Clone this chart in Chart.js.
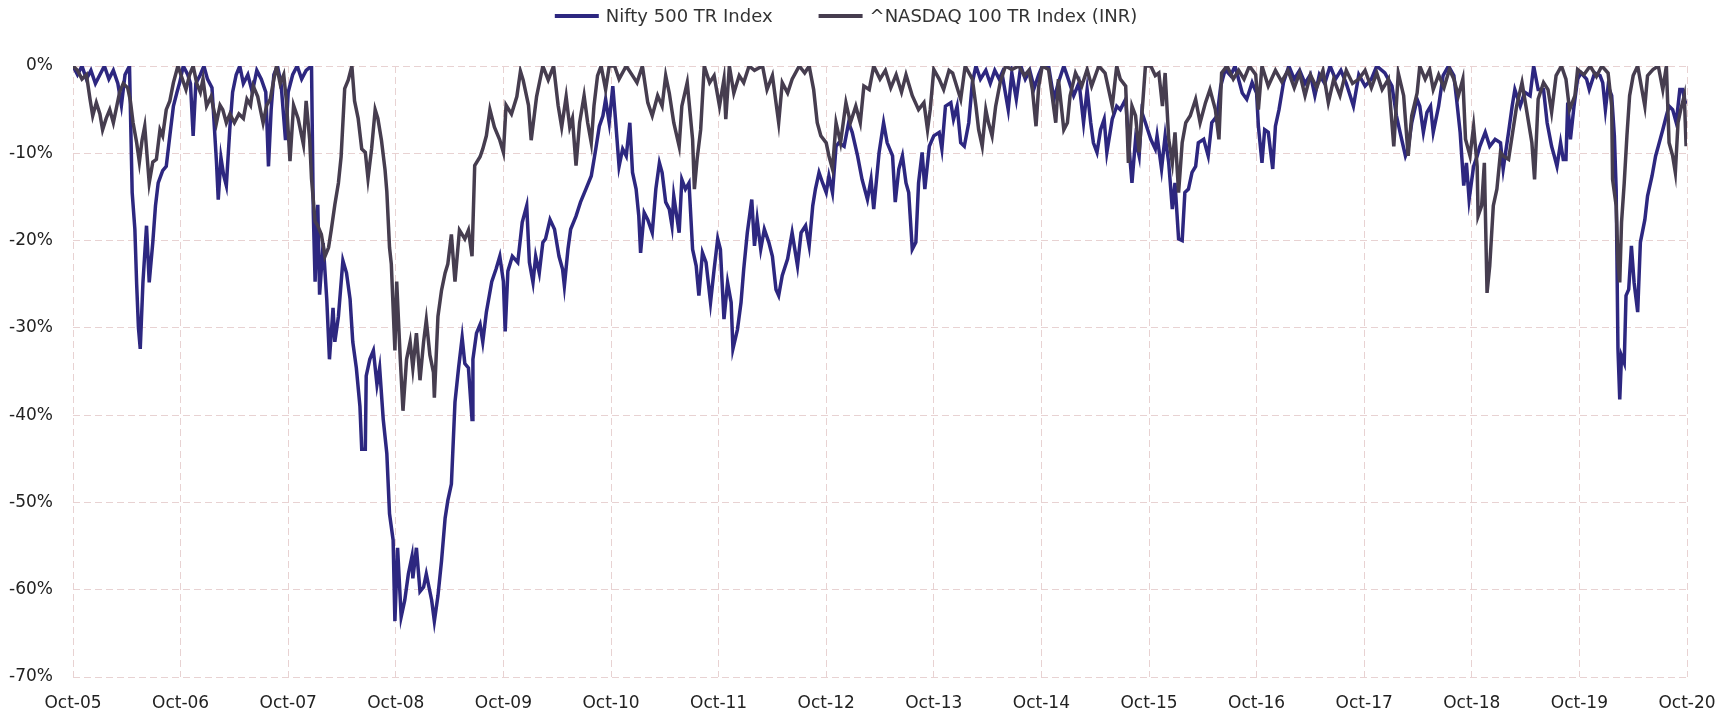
<!DOCTYPE html>
<html>
<head>
<meta charset="utf-8">
<script src="https://cdn.jsdelivr.net/npm/chart.js@4"></script>
<style>
  html, body { margin: 0; padding: 0; background: #ffffff; }
  #wrap { width: 1732px; height: 715px; }
</style>
</head>
<body>
<div id="wrap"><canvas id="c" width="1732" height="715"></canvas></div>
<script>
// x positions are months since Oct-05; values are drawdown in %
const tickLabels = ["Oct-05","Oct-06","Oct-07","Oct-08","Oct-09","Oct-10","Oct-11","Oct-12","Oct-13","Oct-14","Oct-15","Oct-16","Oct-17","Oct-18","Oct-19","Oct-20"];
const seriesNames = ["Nifty 500 TR Index", "^NASDAQ 100 TR Index (INR)"];

const niftyMonths = [0,0.5,1,1.5,2,2.5,3,3.5,4,4.5,5,5.4,5.8,6.3,6.6,6.9,7.1,7.3,7.5,7.8,8.2,8.5,8.9,9.2,9.5,10,10.4,10.8,11.2,11.6,11.9,12.3,12.8,13.1,13.4,13.7,14.2,14.6,15,15.5,16,16.2,16.5,16.8,17.1,17.5,17.8,18.2,18.6,19,19.5,20,20.5,21,21.5,21.8,22.1,22.4,22.8,23.2,23.7,24,24.5,25,25.5,26,26.6,26.8,27,27.3,27.5,27.9,28.3,28.6,29,29.2,29.6,30.1,30.5,30.9,31.2,31.6,32,32.2,32.6,32.7,33.1,33.5,33.9,34.2,34.6,35,35.3,35.7,35.9,36.2,36.6,37,37.4,37.8,37.9,38.3,38.7,39.1,39.4,39.6,40,40.3,40.7,41.1,41.5,41.8,42.2,42.6,43,43.4,43.7,44.1,44.5,44.6,45,45.4,45.7,46.1,46.7,47.2,47.6,48,48.2,48.5,49,49.6,50.1,50.6,50.9,51.3,51.6,52,52.4,52.7,53.2,53.7,54.2,54.6,54.8,55.2,55.5,56.1,56.6,57.2,57.8,58.3,58.7,59.1,59.4,59.8,60.2,60.5,60.9,61.3,61.7,62.1,62.4,62.8,63.1,63.3,63.7,64.1,64.6,65,65.4,65.7,66.1,66.5,66.8,67,67.6,67.9,68.3,68.7,69.1,69.5,69.8,70.2,70.6,71.1,71.5,71.9,72.2,72.6,73,73.4,73.6,74.1,74.5,74.8,75.2,75.7,76,76.3,76.7,77.1,77.6,78,78.4,78.7,79.1,79.7,80.2,80.8,81.2,81.7,82.1,82.5,82.8,83.2,83.6,84,84.3,84.7,85.1,85.4,86,86.5,86.9,87.5,88,88.6,89,89.3,89.9,90.4,90.8,91.4,91.7,92.1,92.5,92.9,93.2,93.6,94,94.3,94.7,95,95.5,96,96.6,96.9,97.3,97.9,98.2,98.6,99,99.4,99.9,100.3,100.7,101.2,101.8,102.3,102.8,103.3,103.6,104.3,104.7,105.2,105.7,106.2,106.7,107.2,107.7,108.1,108.8,109.4,109.9,110.5,111,111.6,112.2,112.7,113.1,113.5,113.8,114.2,114.6,115,115.3,115.9,116.4,116.8,117.4,117.7,118.1,118.5,118.9,119.2,119.6,120.2,120.7,120.9,121.4,121.8,122.2,122.6,122.9,123.3,123.7,124,124.4,124.8,125.2,125.5,126.1,126.6,127,127.6,128,128.5,129.1,129.6,130.4,130.9,131.5,132,132.2,132.6,132.9,133.3,133.8,134.1,134.5,135,135.6,136.2,136.8,137.4,138,138.5,139,139.6,140.2,140.8,141.4,142,142.8,143.4,144.1,144.8,145.4,146.3,147.1,147.6,148,148.6,148.9,149.3,149.9,150.2,150.6,151,151.4,151.7,152.3,152.8,153.4,154,154.3,154.7,155.1,155.4,155.7,156.2,156.6,156.9,157.5,158,158.6,159.2,159.5,160.1,160.5,160.8,161.4,161.9,162.5,162.9,163.4,164,164.4,164.9,165.2,165.5,165.9,166.2,166.5,166.7,167,167.4,167.8,168.2,168.8,169.1,169.7,170.3,170.6,170.9,171.2,171.6,171.9,172.1,172.3,172.5,172.7,173,173.2,173.5,173.8,174.1,174.5,174.8,175.3,175.6,176.1,176.5,176.8,177.3,177.7,178,178.4,178.8,179.2,179.5,179.8,180];
const niftyValues = [0,-1,0,-1.5,-0.5,-2,-1,0,-1.5,-0.5,-2,-4.5,-1,0,-14.5,-18.7,-25,-30,-32.4,-24.8,-18.3,-24.8,-20.2,-16,-13.4,-12,-11.5,-8,-4.6,-3,-1.9,0,-1,-2,-8,-2,-1,0,-1.5,-2.5,-11,-15.3,-10.5,-12.5,-13.7,-7,-3,-1,0,-2,-1,-3,-0.5,-1.5,-3,-11.5,-5,-1,0,-2,-8.5,-3,-1,0,-1.5,-0.5,0,-16.8,-24.7,-15.9,-26.2,-20.3,-26.7,-33.6,-27.7,-31.6,-28.7,-22.3,-23.7,-26.7,-31.6,-34.6,-39,-43.9,-43.9,-35.5,-33.6,-32.6,-36.5,-34.6,-40.5,-44.4,-51.3,-54.3,-63.6,-55.2,-63.1,-61.2,-58.2,-56.2,-58.7,-55.2,-60.2,-59.7,-58.2,-59.2,-61.2,-63.6,-60.7,-56.7,-51.8,-49.8,-47.9,-38.5,-34.6,-31.1,-34.1,-34.6,-40.5,-33.6,-30.6,-29.6,-31.6,-28.2,-24.7,-23.2,-21.8,-24.7,-30.4,-23.5,-21.8,-22.5,-17.9,-16,-22.5,-24.8,-21.8,-23.7,-20.2,-19.8,-17.6,-18.7,-21.8,-23.3,-25.2,-21,-18.7,-17.2,-15.6,-14.1,-12.6,-9.5,-6.9,-5.7,-3.8,-6.5,-2.3,-6.1,-11.5,-9.5,-10.3,-6.5,-12.2,-14.1,-17.2,-21.4,-16.8,-17.6,-19.1,-14.1,-11.1,-12.2,-15.6,-16.4,-18.3,-14.9,-19.1,-13,-14.1,-13.4,-21,-22.9,-26.3,-21.4,-22.5,-27.1,-23.3,-19.8,-21,-29,-24.8,-27.1,-32.4,-30.2,-27.1,-23.3,-19.1,-15.3,-20.6,-17.6,-21,-18.7,-20.2,-21.8,-25.6,-26.3,-24,-22.1,-19.1,-22.9,-19.1,-18.3,-20.6,-16,-14.1,-12.2,-13.4,-14.5,-12.6,-14.5,-9.2,-8.8,-9.2,-6.5,-7.6,-10.3,-13,-15.3,-13,-16.4,-9.9,-6.5,-8.8,-10.3,-15.6,-11.8,-10.3,-13.4,-14.5,-21,-20.2,-13.4,-9.9,-14.1,-9.2,-8,-7.6,-9.5,-4.6,-4.2,-6.1,-4.6,-8.8,-9.2,-6.5,-1.9,0,-1.5,-0.5,-2,-0.5,-1.5,-0.8,-5,-0.8,-3.8,0,-1.5,-0.5,-2.5,-1,0,0,-3.8,-1.9,0,-1.5,-3.4,-1.9,-6.5,-2.7,-6.5,-8.8,-9.9,-7.3,-6.1,-9.9,-6.1,-4.6,-5,-3.8,-8.4,-13.4,-8.4,-10.3,-5.3,-6.5,-8.4,-9.5,-8,-11.8,-8,-11.1,-16.4,-13.4,-19.8,-20,-14.5,-14.1,-12.2,-11.5,-8.8,-8.4,-10.3,-6.5,-5.7,-2.3,-0.4,-1.1,0,-3.1,-3.8,-1.9,-3.1,-6.9,-11.1,-7.3,-7.6,-11.8,-6.9,-5,-1.9,0,-1.5,-0.5,-2,-1,-3.4,-1,-2,0,-1.5,-0.5,-2,-4.6,-1,-2.3,-1.5,0,-0.8,-2.3,-5.7,-7.6,-10.3,-9.5,-6.5,-3.8,-4.6,-7.6,-5.3,-4.6,-7.6,-4.6,-1.1,0,-1.1,-3.8,-7.6,-13.7,-11.1,-15.3,-11.5,-10.3,-9.2,-7.6,-9.2,-8.4,-8.8,-11.8,-7.6,-4.6,-2.7,-4.6,-3,-3.4,0,-2.7,-2.7,-6.5,-9.2,-10.3,-11.5,-8.8,-10.7,-10.7,-4.2,-8.4,-4.6,-1.5,-0.8,-1.5,-2.7,-0.8,-1.1,-1.9,-5,-2.3,-3.4,-8,-14.1,-32.4,-38.2,-33.2,-34,-26.3,-25.6,-20.6,-24.8,-28.2,-20.2,-17.6,-14.9,-12.6,-10.3,-9.2,-7.3,-5.7,-4.6,-5,-6.5,-2.7,-2.7,-4.2,-4];

const nasdaqMonths = [0,0.5,1,1.5,1.9,2.2,2.6,3,3.3,3.7,4.1,4.5,4.9,5.2,5.6,6.1,6.4,6.7,7.1,7.4,7.7,8,8.5,8.9,9.3,9.7,10,10.4,10.8,11.2,11.7,12.2,12.6,13,13.4,13.8,14.2,14.5,14.9,15.4,16,16.4,16.7,17.1,17.5,18,18.5,19,19.4,19.8,20.1,20.6,21.2,21.6,22,22.4,22.7,23.1,23.5,23.8,24.2,24.6,25.1,25.7,26,26.4,26.6,27,27.3,27.7,28.1,28.5,28.8,29.2,29.6,29.9,30.3,30.7,31.1,31.4,31.8,32.2,32.6,32.9,33.3,33.7,34,34.4,34.8,35,35.3,35.5,35.9,36.1,36.5,36.8,37.2,37.6,37.9,38.3,38.7,39.1,39.4,39.8,40.2,40.3,40.7,41.1,41.5,41.8,42.2,42.6,43.1,43.7,44.1,44.5,44.8,45.4,45.7,46.1,46.5,47,47.6,48,48.3,48.9,49.5,49.9,50.2,50.8,51.1,51.7,52.4,53,53.6,54.1,54.5,55,55.4,55.7,56.1,56.5,57,57.4,57.8,58.1,58.5,58.9,59.4,59.8,60.4,60.9,61.7,62.4,62.9,63.5,64.1,64.6,65.2,65.7,66.1,66.5,67,67.6,67.9,68.5,69.1,69.3,69.6,70,70.4,71,71.5,72.1,72.6,72.8,73.2,73.7,74.3,74.8,75.4,76,76.9,77.4,78,78.7,79.1,79.7,80.2,81,81.6,82.1,82.6,83,83.4,84,84.3,84.7,85.1,85.6,86.2,86.7,87.3,87.8,88.2,88.8,89.3,90,90.6,91.2,91.8,92.4,92.9,93.6,94.3,94.9,95.3,95.6,96,96.6,97.1,97.7,98.1,99,99.5,100.3,100.7,101,101.4,101.8,102.1,102.5,102.9,103.4,104,104.7,105.5,106.1,106.6,107,107.4,107.7,108.1,108.8,109.6,109.9,110.5,110.9,111.2,111.8,112.5,113.1,113.6,114.4,115.1,115.9,116.4,116.8,117.4,117.7,118.1,118.5,118.9,119.2,119.6,120.2,120.7,121.1,121.5,121.8,122.2,122.6,122.9,123.3,123.7,124.1,124.6,125.2,125.7,126.3,126.8,127.4,127.8,128.1,128.7,129.4,130,130.6,131.2,131.9,132.2,132.6,133.3,134.1,134.8,135.5,136.2,136.8,137.4,138,138.7,139.4,140,140.6,141.3,142,142.7,143.4,144.1,144.8,145.4,146,146.7,147.3,147.8,148.4,148.9,149.3,149.9,150.2,150.8,151.3,151.7,152.3,152.9,153.5,154,154.5,155,155.3,155.8,156.2,156.6,156.7,157.1,157.4,157.7,158,158.4,158.8,159.2,159.5,160.1,160.5,161,161.6,162.1,162.7,163,163.4,164,164.5,164.9,165.4,166,166.5,166.9,167.5,167.8,168.5,169.2,169.9,170.5,171.2,171.6,171.7,172.1,172.3,172.5,172.7,173,173.3,173.6,174,174.5,175.3,175.6,176.2,176.8,177.3,177.7,178,178.4,178.7,179,179.3,179.7,179.9];
const nasdaqValues = [0,-0.5,-1.5,-1,-3.8,-5.7,-4.2,-5.5,-7.3,-6,-5,-6.5,-4.5,-3,-2,-2.5,-4,-6.5,-8.8,-11,-8.5,-6.9,-13.4,-11,-10.7,-7.3,-8,-5,-4,-1.9,0,-1.5,-2.7,-1,0,-2,-3,-1.5,-4.6,-3.5,-6.5,-4.5,-5,-6.5,-5.5,-6.5,-5.5,-6,-3.8,-4.5,-2.3,-3.5,-6.5,-4.5,-3.8,-1.5,0,-2,-1,-4,-10.9,-4.5,-6,-9,-4,-8.5,-12.9,-17.8,-18.3,-19.3,-21.8,-20.8,-18.8,-15.9,-13.4,-10.4,-2.6,-1.6,0,-4,-6,-9.5,-9.9,-12.9,-9.5,-5,-6,-8.5,-11.9,-14.4,-20.8,-22.7,-32.6,-24.7,-33.6,-39.5,-33.6,-31.6,-34.6,-30.6,-36,-31.6,-29.1,-33.1,-35.1,-38,-28.7,-25.7,-23.7,-22.7,-19.3,-24.7,-18.8,-19.8,-18.8,-21.8,-11.4,-10.4,-9.5,-8,-5,-7,-8.5,-9.9,-4.5,-5.5,-3.5,-0.6,-1.6,-4.5,-8.5,-3.5,0,-1.6,0,-4.5,-7,-3.5,-7,-6,-11.4,-6.5,-3.4,-6.5,-8.8,-4.6,-1.1,0,-2.7,0,0,-1.5,0,-1.1,-1.9,0,-4.2,-5.7,-3.4,-4.6,-1.1,-3.1,-6.5,-9.2,-4.6,-1.9,-8.4,-14.1,-10.7,-7.3,0,-1.9,-1.1,-4.6,-1.5,-6.1,0,-3.1,-1.1,-1.9,0,-0.5,0,-2.7,-1.1,-6.5,-1.9,-3.1,-1.5,0,-0.8,0,-2.7,-6.5,-8,-8.8,-10.3,-11.8,-6.5,-8.8,-4.2,-6.5,-4.6,-6.5,-2.3,-2.7,0,-1.5,-0.5,-2.5,-1,-3,-1,-3.4,-5,-4.2,-7.3,-5,-0.4,-1.5,-2.7,-0.5,-0.8,-3.8,0,-1.5,-4.6,-7.3,-9.2,-5,-6.5,-8,-4.6,-1.9,0,-0.4,0,-1.1,-0.5,-2.7,-6.9,-2.3,0,-0.4,-6.5,-1.5,-7.3,-6.5,-3.4,-0.8,-2.3,-0.4,-2.3,0,-0.8,-4.6,0,-1.5,-2.3,-11.1,-4.6,-5.7,-9.9,-5.7,0,0,-1.1,-0.8,-4.6,-0.8,-8.4,-11.1,-7.6,-14.5,-8.8,-6.5,-5.7,-3.8,-6.5,-4.2,-2.7,-5,-8.4,-0.8,0,-1.5,-0.5,-1.5,0,-1,-5,0,-2.3,-0.5,-1.8,-0.5,-2.5,-0.8,-3.4,-1,-2.5,-0.5,-4.2,-1.5,-3.4,-0.5,-2,-1.5,-0.5,-2.5,-0.8,-2.7,-1.5,-9.2,-0.8,-3.4,-10.3,-5.7,-3.1,0,-1.5,-0.4,-2.7,-1,-2.5,-0.4,-1.5,-3.4,-1.5,-8.4,-10.3,-6.9,-11.5,-17.2,-16,-11.1,-26,-22.9,-16,-14.1,-9.9,-10.3,-10.7,-8,-4.6,-1.9,-5,-8.8,-13,-3.8,-1.9,-2.7,-5.3,-1.1,0,-1.5,-5,-3.4,-0.4,-1,0,-1.2,0,-0.8,-4.6,-13,-16,-22.5,-24.8,-17.9,-13.4,-8,-3.4,-1.1,0,-4.6,-1.1,-0.4,0,-2.7,0,-8.8,-10.3,-12.2,-6.5,-5,-3.4,-9.2];

const niftyColor = "#2d2780";
const nasdaqColor = "#463d4f";
const fontFamily = "'DejaVu Sans', sans-serif";

function toPoints(xs, ys) {
  return xs.map((x, i) => ({ x: x, y: ys[i] }));
}

// Legend drawn on the canvas from the chart's own dataset labels/colours
const lineLegend = {
  id: "lineLegend",
  afterDraw(chart) {
    const ctx = chart.ctx;
    const items = chart.data.datasets;
    const boxW = 44, gapText = 7, gapItem = 46, cy = 16, centerX = 846;
    ctx.save();
    ctx.font = "18px " + fontFamily;
    const widths = items.map(ds => boxW + gapText + ctx.measureText(ds.label).width);
    const total = widths.reduce((a, b) => a + b, 0) + gapItem * (items.length - 1);
    let x = centerX - total / 2;
    items.forEach((ds, i) => {
      ctx.fillStyle = ds.borderColor;
      ctx.fillRect(x, cy - 2, boxW, 4);
      ctx.fillStyle = "#333333";
      ctx.textAlign = "left";
      ctx.textBaseline = "middle";
      ctx.fillText(ds.label, x + boxW + gapText, cy + 1);
      x += widths[i] + gapItem;
    });
    ctx.restore();
  }
};

new Chart(document.getElementById("c"), {
  type: "line",
  data: {
    datasets: [
      {
        label: seriesNames[0],
        data: toPoints(niftyMonths, niftyValues),
        borderColor: niftyColor,
        backgroundColor: niftyColor,
        borderWidth: 3.5,
        pointRadius: 0,
        tension: 0,
        order: 1,
        clip: 0
      },
      {
        label: seriesNames[1],
        data: toPoints(nasdaqMonths, nasdaqValues),
        borderColor: nasdaqColor,
        backgroundColor: nasdaqColor,
        borderWidth: 3.5,
        pointRadius: 0,
        tension: 0,
        order: 0,
        clip: 0
      }
    ]
  },
  plugins: [lineLegend],
  options: {
    responsive: false,
    devicePixelRatio: 1,
    animation: false,
    layout: { padding: { left: 0, right: 45, top: 66, bottom: 0 } },
    plugins: {
      legend: { display: false },
      tooltip: { enabled: false }
    },
    scales: {
      x: {
        type: "linear",
        min: 0,
        max: 180,
        afterBuildTicks: (axis) => {
          axis.ticks = tickLabels.map((_, i) => ({ value: i * 12 }));
        },
        afterFit: (axis) => { axis.height = 38; },
        ticks: {
          autoSkip: false,
          maxRotation: 0,
          padding: 16,
          color: "#222222",
          font: { family: fontFamily, size: 17 },
          callback: (value) => tickLabels[Math.round(value / 12)]
        },
        grid: { color: "#e8d2d2", lineWidth: 1, drawTicks: false },
        border: { display: false, dash: [7, 4] }
      },
      y: {
        min: -70,
        max: 0,
        afterFit: (axis) => { axis.width = 73; },
        ticks: {
          stepSize: 10,
          padding: 20,
          color: "#222222",
          font: { family: fontFamily, size: 17 },
          callback: (value) => value + "%"
        },
        grid: { color: "#e8d2d2", lineWidth: 1, drawTicks: false },
        border: { display: false, dash: [7, 4] }
      }
    }
  }
});
</script>
</body>
</html>
